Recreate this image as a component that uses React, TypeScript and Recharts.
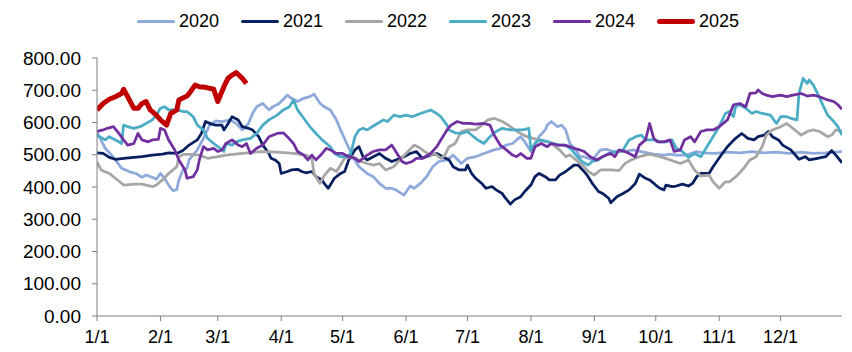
import React from 'react';
import { LineChart, Line, XAxis, YAxis } from 'recharts';

type Pt = [number, number];

// x = day of year (0 = 1/1), y = value
const monthTicks = [0, 31, 59, 90, 120, 151, 181, 212, 243, 273, 304, 334];
const monthLabels = ['1/1', '2/1', '3/1', '4/1', '5/1', '6/1', '7/1', '8/1', '9/1', '10/1', '11/1', '12/1'];
const yTicks = [0, 100, 200, 300, 400, 500, 600, 700, 800];

const s2020: Pt[] = [
  [0, 570], [2, 545], [4, 520], [7, 500], [9, 484], [12, 458], [16, 447], [19, 442], [22, 430], [24, 437],
  [27, 430], [29, 424], [31, 442], [33, 427], [35, 406], [37, 389], [39, 392], [40, 422], [42, 453], [44, 458],
  [45, 484], [49, 515], [52, 551], [55, 592], [58, 605], [61, 603], [65, 608], [68, 597], [71, 577], [74, 597],
  [76, 628], [78, 649], [81, 659], [84, 639], [86, 649], [89, 659], [93, 685], [95, 675], [98, 665], [101, 675],
  [104, 680], [106, 688], [109, 659], [111, 649], [114, 639], [117, 608], [119, 577], [122, 535], [125, 494], [128, 463],
  [132, 442], [135, 432], [138, 411], [141, 396], [144, 396], [146, 391], [150, 375], [153, 403], [155, 396], [158, 411],
  [161, 432], [164, 463], [167, 479], [171, 484], [174, 499], [176, 486], [178, 473], [181, 489], [185, 494], [189, 504],
  [194, 515], [197, 520], [200, 530], [203, 535], [205, 546], [207, 556], [209, 540], [212, 510], [214, 535], [216, 556],
  [219, 577], [220, 592], [222, 603], [225, 587], [227, 592], [229, 577], [231, 535], [234, 515], [236, 494], [238, 494],
  [242, 484], [246, 515], [249, 517], [252, 510], [257, 510], [262, 515], [267, 508], [272, 502], [277, 499], [280, 502],
  [283, 499], [288, 499], [293, 510], [296, 506], [302, 504], [308, 508], [314, 506], [320, 510], [326, 506], [332, 508],
  [338, 504], [344, 508], [350, 504], [356, 506], [364, 510],
];

const s2021: Pt[] = [
  [0, 506], [3, 504], [6, 492], [9, 486], [13, 489], [18, 492], [22, 494], [27, 499], [32, 502], [35, 506],
  [39, 504], [42, 513], [45, 530], [49, 546], [51, 566], [53, 603], [56, 595], [58, 592], [61, 592], [62, 577],
  [64, 596], [66, 618], [69, 608], [71, 587], [74, 582], [76, 577], [79, 556], [81, 530], [84, 504], [85, 489],
  [87, 484], [89, 473], [90, 442], [93, 448], [95, 453], [98, 455], [100, 448], [102, 444], [105, 448], [107, 432],
  [110, 422], [111, 411], [113, 396], [116, 427], [119, 442], [121, 448], [123, 484], [126, 515], [128, 525], [130, 494],
  [132, 484], [135, 494], [138, 504], [141, 489], [144, 479], [146, 484], [150, 494], [153, 504], [156, 510], [159, 489],
  [163, 499], [166, 504], [169, 494], [172, 484], [174, 463], [177, 453], [180, 453], [181, 468], [183, 442], [185, 427],
  [188, 411], [190, 396], [193, 401], [195, 391], [198, 380], [199, 370], [202, 347], [204, 360], [207, 370], [209, 386],
  [212, 406], [214, 432], [216, 442], [219, 432], [221, 422], [224, 422], [226, 437], [229, 448], [231, 458], [233, 468],
  [235, 468], [238, 448], [240, 432], [242, 411], [245, 386], [247, 380], [250, 365], [251, 351], [254, 370], [257, 380],
  [260, 391], [263, 411], [265, 440], [268, 427], [270, 422], [273, 406], [275, 396], [277, 391], [278, 406], [281, 401],
  [283, 403], [286, 409], [289, 403], [291, 411], [293, 432], [295, 442], [299, 442], [301, 463], [305, 499], [308, 525],
  [312, 551], [315, 566], [318, 551], [321, 546], [323, 556], [326, 561], [328, 572], [330, 556], [333, 546], [335, 530],
  [339, 515], [343, 486], [346, 494], [348, 484], [352, 489], [356, 494], [359, 513], [361, 499], [364, 475],
];

const s2022: Pt[] = [
  [0, 478], [2, 453], [6, 442], [9, 427], [13, 406], [18, 409], [22, 409], [27, 401], [29, 406], [32, 422],
  [35, 442], [39, 463], [40, 494], [42, 501], [45, 501], [50, 499], [54, 489], [59, 494], [63, 499], [71, 504],
  [80, 510], [88, 508], [96, 504], [102, 499], [105, 489], [106, 442], [109, 411], [111, 435], [114, 458], [117, 448],
  [121, 489], [125, 494], [129, 479], [132, 473], [135, 468], [138, 473], [141, 453], [145, 463], [148, 484], [151, 504],
  [155, 530], [158, 520], [160, 510], [163, 499], [165, 504], [168, 489], [170, 499], [172, 525], [175, 535], [178, 572],
  [181, 577], [185, 577], [188, 592], [191, 608], [194, 613], [198, 603], [201, 592], [204, 577], [207, 566], [210, 556],
  [213, 551], [216, 546], [220, 541], [223, 530], [226, 515], [229, 494], [231, 500], [234, 484], [238, 463], [240, 448],
  [243, 437], [246, 453], [251, 453], [255, 451], [258, 473], [261, 484], [265, 494], [270, 502], [275, 494], [280, 484],
  [285, 473], [289, 484], [292, 452], [295, 434], [299, 437], [301, 416], [304, 396], [307, 416], [309, 416], [313, 437],
  [316, 458], [319, 484], [322, 494], [325, 525], [327, 561], [330, 577], [334, 587], [337, 597], [340, 582], [344, 561],
  [347, 572], [350, 577], [353, 572], [357, 556], [359, 561], [361, 577], [364, 572],
];

const s2023: Pt[] = [
  [0, 561], [4, 546], [6, 556], [9, 546], [12, 535], [13, 592], [15, 587], [18, 582], [21, 587], [24, 597],
  [27, 608], [29, 623], [31, 644], [33, 649], [35, 639], [39, 639], [42, 634], [44, 634], [47, 618], [49, 592],
  [52, 577], [54, 551], [57, 535], [59, 525], [62, 510], [63, 535], [66, 530], [68, 540], [71, 546], [75, 551],
  [78, 566], [81, 592], [84, 608], [88, 623], [91, 639], [94, 649], [96, 670], [98, 639], [101, 613], [104, 587],
  [107, 566], [110, 546], [114, 525], [116, 504], [119, 494], [122, 494], [124, 504], [126, 556], [128, 577], [130, 582],
  [132, 577], [137, 597], [140, 608], [142, 603], [145, 623], [148, 618], [151, 623], [154, 618], [158, 628], [161, 634],
  [163, 639], [166, 628], [168, 618], [171, 592], [172, 577], [175, 568], [178, 566], [181, 572], [184, 556], [186, 546],
  [189, 535], [192, 556], [195, 572], [198, 582], [202, 577], [205, 577], [208, 577], [211, 582], [212, 515], [214, 535],
  [216, 546], [220, 541], [223, 535], [226, 530], [229, 530], [232, 515], [234, 499], [237, 479], [240, 468], [242, 479],
  [245, 484], [247, 494], [250, 504], [254, 510], [257, 515], [260, 546], [264, 558], [266, 561], [268, 546], [272, 546],
  [275, 540], [278, 540], [281, 546], [283, 520], [286, 510], [289, 492], [292, 504], [295, 494], [298, 525], [301, 556],
  [304, 587], [307, 628], [309, 634], [311, 618], [312, 649], [314, 655], [317, 644], [320, 628], [322, 634], [325, 628],
  [329, 623], [332, 597], [334, 618], [337, 618], [339, 613], [342, 608], [343, 690], [345, 737], [347, 721], [348, 732],
  [350, 716], [352, 690], [355, 649], [357, 623], [360, 603], [362, 587], [364, 561],
];

const s2024: Pt[] = [
  [0, 572], [3, 577], [5, 582], [8, 587], [10, 572], [13, 546], [15, 530], [18, 535], [20, 566], [22, 546],
  [25, 540], [27, 546], [30, 548], [31, 582], [33, 577], [35, 546], [38, 515], [40, 484], [43, 453], [44, 427],
  [47, 432], [49, 453], [50, 484], [52, 525], [54, 515], [57, 520], [59, 510], [61, 515], [63, 535], [66, 546],
  [69, 530], [71, 525], [73, 535], [75, 504], [78, 520], [81, 530], [84, 556], [88, 566], [91, 568], [93, 556],
  [96, 535], [98, 510], [101, 499], [103, 484], [105, 499], [107, 484], [110, 504], [112, 520], [114, 515], [117, 504],
  [120, 504], [123, 494], [126, 489], [128, 479], [132, 499], [135, 510], [138, 515], [141, 515], [144, 530], [146, 510],
  [149, 479], [151, 473], [154, 479], [156, 489], [159, 489], [163, 504], [166, 525], [168, 546], [171, 577], [173, 592],
  [176, 603], [179, 597], [182, 597], [185, 595], [189, 597], [192, 592], [194, 561], [197, 530], [200, 515], [203, 499],
  [205, 494], [207, 504], [210, 489], [212, 489], [214, 525], [217, 535], [220, 525], [222, 535], [225, 530], [228, 530],
  [231, 525], [233, 520], [236, 515], [238, 510], [241, 494], [244, 484], [247, 494], [249, 499], [251, 504], [253, 494],
  [255, 515], [258, 510], [260, 504], [263, 494], [265, 530], [268, 546], [270, 597], [272, 551], [274, 540], [277, 540],
  [280, 546], [282, 510], [285, 515], [287, 546], [290, 556], [292, 540], [295, 572], [298, 577], [301, 577], [304, 587],
  [308, 608], [311, 655], [314, 659], [317, 649], [319, 690], [322, 692], [323, 701], [325, 690], [327, 685], [330, 680],
  [334, 685], [337, 680], [340, 685], [344, 690], [347, 682], [350, 685], [353, 680], [357, 670], [360, 665], [362, 655],
  [364, 641],
];

const s2025: Pt[] = [
  [0, 639], [3, 659], [6, 672], [9, 680], [12, 690], [13, 703], [15, 680], [18, 644], [20, 644], [22, 659],
  [24, 665], [26, 639], [29, 623], [31, 608], [34, 592], [36, 628], [39, 639], [40, 670], [44, 682], [45, 690],
  [48, 716], [50, 711], [53, 709], [57, 703], [59, 665], [62, 711], [64, 737], [66, 747], [68, 755], [71, 737],
  [73, 721],
];

const series = [
  { name: '2020', color: '#8EA9DB', width: 2.75, pts: s2020 },
  { name: '2021', color: '#082060', width: 2.75, pts: s2021 },
  { name: '2022', color: '#A6A6A6', width: 2.75, pts: s2022 },
  { name: '2023', color: '#4BACC6', width: 2.75, pts: s2023 },
  { name: '2024', color: '#7030A0', width: 2.75, pts: s2024 },
  { name: '2025', color: '#C00000', width: 5, pts: s2025 },
];

const font = '"Liberation Sans", Arial, sans-serif';

const App = () => {
  return (
    <div style={{ position: 'relative', width: 844, height: 344, fontFamily: font, background: '#fff' }}>
      {/* legend */}
      <div style={{ position: 'absolute', left: 129, top: 3, height: 20, display: 'flex', alignItems: 'center' }}>
        {series.map((s) => (
          <div key={s.name} style={{ display: 'flex', alignItems: 'center', width: 104 }}>
            <div style={{ width: 38, height: s.width === 5 ? 5 : 3, background: s.color, borderRadius: 3, marginRight: 4 }} />
            <span style={{ fontSize: 18, lineHeight: '20px', color: '#000' }}>{s.name}</span>
          </div>
        ))}
      </div>

      <LineChart width={844} height={344} margin={{ top: 50, right: 10, bottom: 6, left: 0 }}>
        <XAxis
          type="number"
          dataKey="d"
          domain={[0, 364]}
          ticks={monthTicks}
          tickFormatter={(v: number) => monthLabels[monthTicks.indexOf(v)] ?? ''}
          interval={0}
          height={30}
          tickSize={5}
          tickMargin={9}
          stroke="#7F7F7F"
          tick={{ fill: '#000', fontSize: 18 }}
          allowDataOverflow
        />
        <YAxis
          type="number"
          domain={[0, 800]}
          ticks={yTicks}
          tickFormatter={(v: number) => v.toFixed(2)}
          interval={0}
          width={89}
          tickSize={5}
          tickMargin={11}
          stroke="#7F7F7F"
          tick={{ fill: '#000', fontSize: 19 }}
        />
        {series.map((s) => (
          <Line
            key={s.name}
            data={s.pts.map(([d, v]) => ({ d, v }))}
            dataKey="v"
            name={s.name}
            type="linear"
            stroke={s.color}
            strokeWidth={s.width}
            strokeLinejoin="round"
            dot={false}
            activeDot={false}
            isAnimationActive={false}
          />
        ))}
      </LineChart>
    </div>
  );
};

export default App;
